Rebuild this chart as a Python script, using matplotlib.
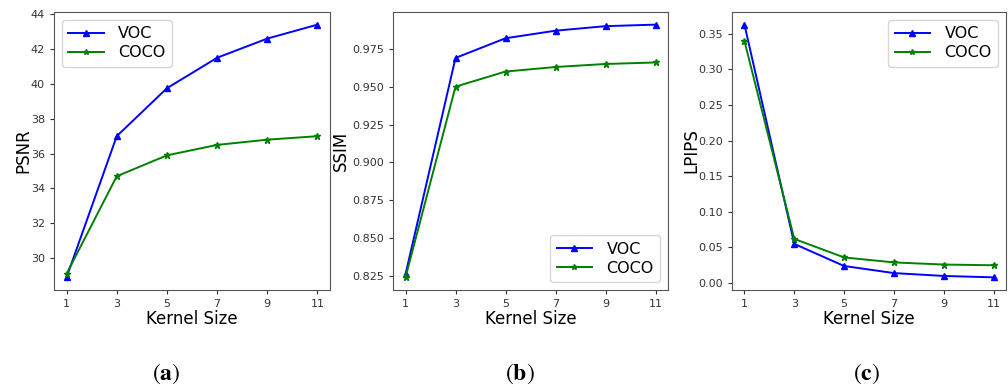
import numpy as np
import matplotlib
matplotlib.use("Agg")
import matplotlib.pyplot as plt

plt.rcParams["mathtext.fontset"] = "stix"

# datos
kernel = [1, 3, 5, 7, 9, 11]

psnr_voc = [28.9, 37.0, 39.75, 41.5, 42.6, 43.4]
psnr_coco = [29.1, 34.7, 35.9, 36.5, 36.8, 37.0]

ssim_voc = [0.826, 0.969, 0.982, 0.987, 0.990, 0.991]
ssim_coco = [0.824, 0.950, 0.960, 0.963, 0.965, 0.966]

lpips_voc = [0.363, 0.055, 0.024, 0.014, 0.010, 0.008]
lpips_coco = [0.340, 0.062, 0.036, 0.029, 0.026, 0.025]

paneles = [
    ("PSNR", psnr_voc, psnr_coco, "upper left", "a"),
    ("SSIM", ssim_voc, ssim_coco, "lower right", "b"),
    ("LPIPS", lpips_voc, lpips_coco, "upper right", "c"),
]

fig = plt.figure(figsize=(10.08, 3.9), dpi=100)
W, H = 1008, 390
# posiciones de los ejes en pixeles (izq, der), centro del rotulo y x de la etiqueta y
cajas = [(54, 330, 166, -0.08), (393, 668, 520, -0.156), (732, 1006, 867, -0.117)]
top, bottom = 12, 290

for (nombre, voc, coco, loc, letra), (x0, x1, xc, xl) in zip(paneles, cajas):
    ax = fig.add_axes([x0 / W, 1 - bottom / H, (x1 - x0) / W, (bottom - top) / H])
    ax.plot(kernel, voc, color="b", marker="^", markersize=5, linewidth=1.4, label="VOC")
    ax.plot(kernel, coco, color="g", marker="*", markersize=5, linewidth=1.4, label="COCO")
    ax.set_xticks(kernel)
    ax.tick_params(labelsize=8, colors="#333333", length=3)
    ax.set_xlabel("Kernel Size", fontsize=12, labelpad=1)
    ax.set_ylabel(nombre, fontsize=12)
    ax.yaxis.set_label_coords(xl, 0.5)
    ax.legend(loc=loc, fontsize=11.5, handlelength=2.2, labelspacing=0.25,
              borderpad=0.4, handletextpad=0.9, markerscale=0.8)
    for s in ax.spines.values():
        s.set_color("#555555")
    if nombre == "SSIM":
        ax.set_yticks([0.825, 0.85, 0.875, 0.9, 0.925, 0.95, 0.975])
    fig.text(xc / W, 1 - 374 / H, r"($\mathbf{%s}$)" % letra, fontsize=17,
             family="STIXGeneral", ha="center", va="center")

plt.savefig("out.png", dpi=100)
plt.close()
